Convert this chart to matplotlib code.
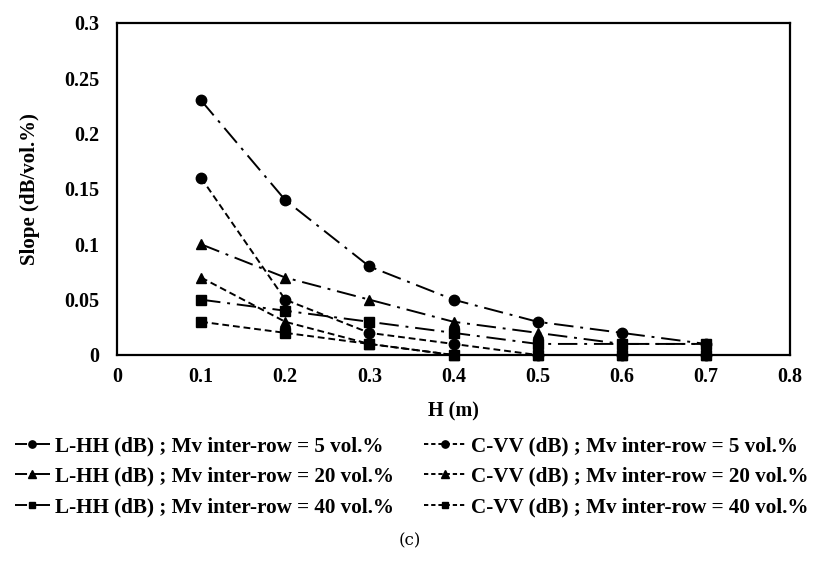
import matplotlib
matplotlib.use("Agg")
import matplotlib.pyplot as plt
from matplotlib.lines import Line2D

H = [0.1, 0.2, 0.3, 0.4, 0.5, 0.6, 0.7]

lhh_5 = [0.23, 0.14, 0.08, 0.05, 0.03, 0.02, 0.01]
lhh_20 = [0.10, 0.07, 0.05, 0.03, 0.02, 0.01, 0.01]
lhh_40 = [0.05, 0.04, 0.03, 0.02, 0.01, 0.01, 0.01]
cvv_5 = [0.16, 0.05, 0.02, 0.01, 0.0, 0.0, 0.0]
cvv_20 = [0.07, 0.03, 0.01, 0.0, 0.0, 0.0, 0.0]
cvv_40 = [0.03, 0.02, 0.01, 0.0, 0.0, 0.0, 0.0]

labels = [
    "L-HH (dB) ; Mv inter-row = 5 vol.%",
    "L-HH (dB) ; Mv inter-row = 20 vol.%",
    "L-HH (dB) ; Mv inter-row = 40 vol.%",
    "C-VV (dB) ; Mv inter-row = 5 vol.%",
    "C-VV (dB) ; Mv inter-row = 20 vol.%",
    "C-VV (dB) ; Mv inter-row = 40 vol.%",
]

xticks = [0, 0.1, 0.2, 0.3, 0.4, 0.5, 0.6, 0.7, 0.8]
yticks = [0, 0.05, 0.1, 0.15, 0.2, 0.25, 0.3]
xtick_labels = ["0", "0.1", "0.2", "0.3", "0.4", "0.5", "0.6", "0.7", "0.8"]
ytick_labels = ["0", "0.05", "0.1", "0.15", "0.2", "0.25", "0.3"]

plt.rcParams['font.family'] = ['Liberation Serif', 'DejaVu Serif']

W, Hh = 813, 568
fig = plt.figure(figsize=(W / 100, Hh / 100), dpi=100)
ax = fig.add_axes([117 / W, 1 - 355 / Hh, (790 - 117) / W, (355 - 23) / Hh])

dashdot = (0, (10, 3.5, 1.5, 3.5))
dashed = (0, (3.5, 2))
lw = 1.4

series = [
    (lhh_5, 'o', dashdot),
    (lhh_20, '^', dashdot),
    (lhh_40, 's', dashdot),
    (cvv_5, 'o', dashed),
    (cvv_20, '^', dashed),
    (cvv_40, 's', dashed),
]
handles = []
for (vals, mk, ls), lab in zip(series, labels):
    ms = 7.5 if mk != 's' else 7
    ax.plot(H, vals, color='black', linestyle=ls, linewidth=lw,
            marker=mk, markersize=ms, markerfacecolor='black',
            markeredgecolor='black', label=lab, clip_on=False)
    leg_ls = (0, (6.2, 1.5, 13, 1)) if ls is dashdot else (0, (2.2, 1.5))
    handles.append(Line2D([], [], color='black', linestyle=leg_ls, linewidth=lw,
                          marker=mk, markersize=ms * 0.7,
                          markerfacecolor='black', markeredgecolor='black'))

ax.set_xlim(0, 0.8)
ax.set_ylim(0, 0.3)
ax.set_xticks(xticks)
ax.set_xticklabels(xtick_labels)
ax.set_yticks(yticks)
ax.set_yticklabels(ytick_labels)
ax.tick_params(axis='both', length=0, labelsize=14.5)
ax.tick_params(axis='x', pad=9)
ax.tick_params(axis='y', pad=12.5)
for lab in ax.get_xticklabels() + ax.get_yticklabels():
    lab.set_fontweight('bold')
for sp in ax.spines.values():
    sp.set_linewidth(1.6)
    sp.set_color('black')

ax.set_xlabel("H (m)", fontsize=14.5, fontweight='bold')
ax.xaxis.set_label_coords(0.5, -(401 - 355) / 332)
ax.set_ylabel("Slope (dB/vol.%)", fontsize=15, fontweight='bold')
ax.yaxis.set_label_coords((40 - 117) / 673, 0.5)

prop = {'family': 'Liberation Serif', 'weight': 'bold', 'size': 15.2}
leg_kw = dict(ncol=1, loc='upper left', frameon=False, prop=prop,
              borderpad=0, borderaxespad=0, handletextpad=0.24,
              labelspacing=0.5)
fig.legend(handles=handles[:3], labels=labels[:3],
           bbox_to_anchor=(15 / W, 1 - 436 / Hh), handlelength=1.65, **leg_kw)
fig.legend(handles=handles[3:], labels=labels[3:],
           bbox_to_anchor=(424 / W, 1 - 436 / Hh), handlelength=2.0, **leg_kw)

fig.text(410 / W, 1 - 541 / Hh, "(c)", ha='center', va='center', fontsize=12,
         family='DejaVu Serif')

fig.savefig("out.png", dpi=100)
